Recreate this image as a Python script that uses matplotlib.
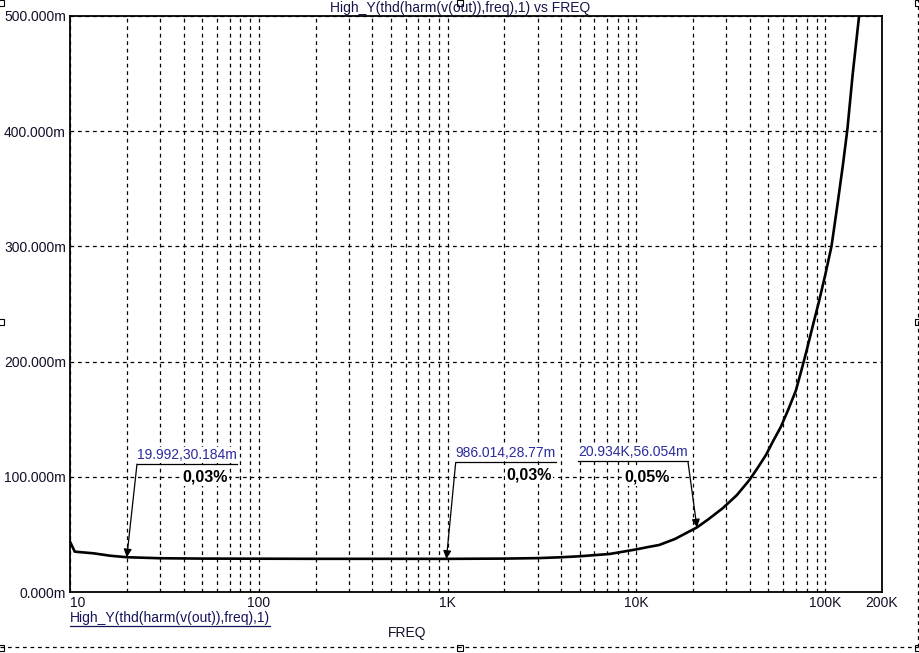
import matplotlib
matplotlib.use("Agg")
import matplotlib.pyplot as plt
from matplotlib.lines import Line2D
from matplotlib.patches import Rectangle
from matplotlib.ticker import FixedLocator, NullFormatter

plt.rcParams['font.family'] = ['Liberation Sans', 'DejaVu Sans']

# curve (Hz, milli-units)
freq = [10, 10.6, 13.3, 16.3, 19.992, 30, 50, 100, 200, 500, 986.014, 2000, 3000,
        3900, 5000, 6000, 7200, 8500, 10000, 11500, 13200, 16000, 20934, 24000,
        28600, 34000, 39600, 44000, 48600, 53000, 58300, 64000, 70000, 75000,
        79000, 83000, 87500, 93000, 100000, 108000, 112000, 117000, 124000,
        131000, 140000, 151000, 160000]
thd_m = [43.7, 35.0, 33.6, 31.5, 30.184, 29.3, 29.0, 28.9, 28.8, 28.8, 28.77, 29.0, 29.4,
         30.1, 31.0, 32.0, 33.0, 35.0, 37.0, 39.0, 40.8, 46.0, 56.054, 63.0,
         72.6, 84.0, 97.0, 108.0, 119.0, 131.0, 143.5, 159.0, 175.0, 193.0,
         207.0, 221.0, 236.0, 253.0, 275.0, 300.0, 318.0, 340.0, 370.0,
         401.0, 450.0, 499.0, 540.0]

# cursor markers: (freq, value, label, percent)
mark_freq = [19.992, 986.014, 20934]
mark_val = [30.184, 28.77, 56.054]
mark_text = ["19.992,30.184m", "986.014,28.77m", "20.934K,56.054m"]
mark_pct = ["0,03%", "0,03%", "0,05%"]

x_major = [10, 100, 1000, 10000, 100000, 200000]
x_major_labels = ["10", "100", "1K", "10K", "100K", "200K"]
y_ticks = [0, 100, 200, 300, 400, 500]
y_labels = ["0.000m", "100.000m", "200.000m", "300.000m", "400.000m", "500.000m"]

W, H = 920, 653
fig = plt.figure(figsize=(9.2, 6.53), dpi=100)
ax = fig.add_axes([70 / W, (H - 592) / H, 812 / W, 576 / H])

ax.plot(freq, thd_m, color="black", lw=1.9, solid_joinstyle="round", zorder=3)

ax.set_xscale("log")
ax.set_xlim(10, 200000)
ax.set_ylim(0, 500)

ax.xaxis.set_major_locator(FixedLocator(x_major))
minors = [m * d for d in (10, 100, 1000, 10000) for m in range(2, 10)
          if m * d not in x_major]
ax.xaxis.set_minor_locator(FixedLocator(minors))
ax.xaxis.set_minor_formatter(NullFormatter())
ax.set_xticklabels(x_major_labels)
ax.set_yticks(y_ticks)
ax.set_yticklabels(y_labels)

ax.tick_params(which="both", length=0, labelsize=10, labelcolor="#101028")
ax.tick_params(axis="x", pad=3)
ax.tick_params(axis="y", pad=3)
lbls = ax.get_xticklabels()
lbls[0].set_horizontalalignment("left")

ax.grid(True, which="both", color="black", linestyle=(0, (3, 3)), lw=0.9)
for s in ax.spines.values():
    s.set_linewidth(1.3)

# cursor markers with labels
blue = "#2b2b9e"
text_pos = [(0.0825, 0.222, "left"), (0.475, 0.225, "left"), (0.761, 0.2266, "right")]
pct_pos = [(0.166, 0.199), (0.565, 0.203), (0.711, 0.199)]
for f, v, t, p, (tx, ty, side), (px, py) in zip(mark_freq, mark_val, mark_text,
                                                 mark_pct, text_pos, pct_pos):
    txt = ax.text(tx, ty + 0.004, t, transform=ax.transAxes, ha=side, va="bottom",
                  color=blue, fontsize=10, zorder=5,
                  bbox=dict(facecolor="white", edgecolor="none", pad=0.5))
    fig.canvas.draw()
    bb = txt.get_window_extent().transformed(ax.transAxes.inverted())
    ax.plot([bb.x0, bb.x1], [ty, ty], transform=ax.transAxes, color="black",
            lw=0.9, zorder=6, clip_on=False)
    ax.annotate("", xy=(f, v), xycoords="data", xytext=(tx, ty),
                textcoords="axes fraction",
                arrowprops=dict(arrowstyle="-|>", color="black", lw=0.9,
                                mutation_scale=12, shrinkA=0, shrinkB=0),
                zorder=6)
    ax.text(px, py, p, transform=ax.transAxes, ha="center", va="center",
            fontsize=11.5, fontweight="bold", color="black", zorder=5,
            bbox=dict(facecolor="white", edgecolor="none", pad=1))

# title and trace legend
fig.text(460 / W, 1 - 8 / H, "High_Y(thd(harm(v(out)),freq),1) vs FREQ",
         ha="center", va="center", fontsize=10, color="#14144a")
leg = fig.text(70 / W, 1 - 618 / H, "High_Y(thd(harm(v(out)),freq),1)",
               ha="left", va="center", fontsize=10, color="#14145a")
fig.canvas.draw()
lb = leg.get_window_extent().transformed(fig.transFigure.inverted())
fig.add_artist(Line2D([lb.x0, lb.x1], [1 - 626 / H, 1 - 626 / H],
                      transform=fig.transFigure, color="#14145a", lw=0.9))
fig.text(407 / W, 1 - 633 / H, "FREQ", ha="center", va="center",
         fontsize=10, color="#101028")

# selection frame (dashed) with handles
fb, fr = 1 - 647 / H, 918 / W
fig.add_artist(Line2D([0, fr], [fb, fb], transform=fig.transFigure,
                      color="black", lw=0.9, linestyle=(0, (3, 3))))
fig.add_artist(Line2D([fr, fr], [fb, 1], transform=fig.transFigure,
                      color="black", lw=0.9, linestyle=(0, (3, 3))))
handles = [(1, 3), (460, 3), (918, 3), (1, 322), (918, 322),
           (1, 648), (460, 648), (918, 648)]
for hx, hy in handles:
    fig.add_artist(Rectangle(((hx - 3) / W, 1 - (hy + 3) / H), 6 / W, 6 / H,
                             transform=fig.transFigure, facecolor="white",
                             edgecolor="black", lw=0.8))

fig.savefig("out.png", dpi=100)
